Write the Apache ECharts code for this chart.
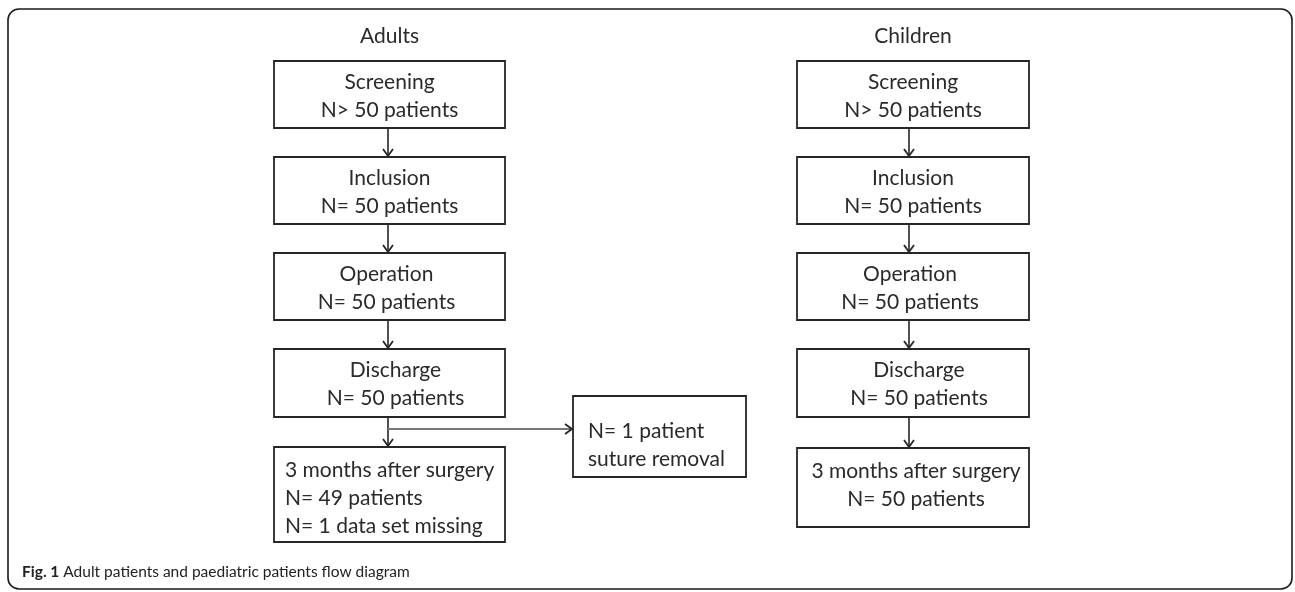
<!DOCTYPE html>
<html>
<head>
<meta charset="utf-8">
<script src="https://cdn.jsdelivr.net/npm/echarts@6/dist/echarts.min.js"></script>
<style>
  html, body { margin: 0; padding: 0; background: #fff; }
  #main { width: 1295px; height: 592px; }
</style>
</head>
<body>
<div id="main"></div>
<script>
// ---- data ----
var groups = ['Adults', 'Children'];
var stages = ['Screening', 'Inclusion', 'Operation', 'Discharge'];
var adultCounts = ['N> 50 patients', 'N= 50 patients', 'N= 50 patients', 'N= 50 patients'];
var childCounts = ['N> 50 patients', 'N= 50 patients', 'N= 50 patients', 'N= 50 patients'];
var adultFollowUp = ['3 months after surgery', 'N= 49 patients', 'N= 1 data set missing'];
var childFollowUp = ['3 months after surgery', 'N= 50 patients'];
var excluded = ['N= 1 patient', 'suture removal'];
var caption = 'Adult patients and paediatric patients flow diagram';

// ---- layout (pixel space of the hidden axes) ----
var cols = [[274, 505], [797, 1029]];          // left / right of each column
var rows = [[61, 128], [157, 224], [253, 320], [349, 417]];
var followRows = [[447, 542], [448, 527]];
var sideBox = [573, 396, 746, 477];
var textShift = [0, 0, -3, 6];               // Discharge text sits a bit right
var FONT = 'Lato, "Open Sans", sans-serif';

// boxes: [x0, y0, x1, y1] + text info kept beside
var boxData = [], boxText = [];
[adultCounts, childCounts].forEach(function (counts, g) {
    stages.forEach(function (s, i) {
        boxData.push([cols[g][0], rows[i][0], cols[g][1], rows[i][1]]);
        boxText.push({ lines: [s, counts[i]], align: 'center', dx: textShift[i], dy: 1.5 });
    });
});
boxData.push([cols[0][0], followRows[0][0], cols[0][1], followRows[0][1]]);
boxText.push({ lines: adultFollowUp, align: 'left', pad: 11, dy: 3.5 });
boxData.push([cols[1][0], followRows[1][0], cols[1][1], followRows[1][1]]);
boxText.push({ lines: childFollowUp, align: 'center', dx: 3, dy: -2 });
boxData.push(sideBox);
boxText.push({ lines: excluded, align: 'left', pad: 15, dy: 9 });

// arrows: [x0, y0, x1, y1]
var arrowX = [388, 909];
var arrowData = [];
arrowX.forEach(function (x, g) {
    for (var i = 0; i < rows.length - 1; i++) {
        arrowData.push([x, rows[i][1], x, rows[i + 1][0]]);
    }
    arrowData.push([x, rows[rows.length - 1][1], x, followRows[g][0]]);
});
arrowData.push([arrowX[0], 429, sideBox[0], 429]);

function renderBox(params, api) {
    var p0 = api.coord([api.value(0), api.value(1)]);
    var p1 = api.coord([api.value(2), api.value(3)]);
    var t = boxText[params.dataIndex];
    var tx = t.align === 'center' ? (p0[0] + p1[0]) / 2 + (t.dx || 0) : p0[0] + t.pad;
    return {
        type: 'group',
        children: [{
            type: 'rect',
            shape: { x: p0[0], y: p0[1], width: p1[0] - p0[0], height: p1[1] - p0[1] },
            style: { fill: '#fff', stroke: '#262626', lineWidth: 1.8 }
        }, {
            type: 'text',
            style: {
                text: t.lines.join('\n'),
                x: tx,
                y: (p0[1] + p1[1]) / 2 + (t.dy || 0),
                align: t.align,
                verticalAlign: 'middle',
                lineHeight: 28,
                fontSize: 21,
                fontFamily: FONT,
                fill: '#2a2a2a'
            }
        }]
    };
}

function renderArrow(params, api) {
    var a = api.coord([api.value(0), api.value(1)]);
    var b = api.coord([api.value(2), api.value(3)]);
    var dx = b[0] - a[0], dy = b[1] - a[1];
    var len = Math.sqrt(dx * dx + dy * dy);
    var ux = dx / len, uy = dy / len;
    var h = 7, w = 5;
    var tip = [b[0] - ux * 1, b[1] - uy * 1];
    var back = [tip[0] - ux * h, tip[1] - uy * h];
    return {
        type: 'group',
        children: [{
            type: 'line',
            shape: { x1: a[0], y1: a[1], x2: tip[0], y2: tip[1] },
            style: { stroke: params.dataIndex === arrowData.length - 1 ? '#777' : '#262626', lineWidth: params.dataIndex === arrowData.length - 1 ? 2.2 : 1.6 }
        }, {
            type: 'polyline',
            shape: { points: [[back[0] - uy * w, back[1] + ux * w], tip, [back[0] + uy * w, back[1] - ux * w]] },
            style: { stroke: '#262626', lineWidth: 1.8, fill: null }
        }]
    };
}

var chart = echarts.init(document.getElementById('main'), null, { renderer: 'canvas' });
var option = {
    animation: false,
    backgroundColor: '#fff',
    grid: { left: 0, right: 0, top: 0, bottom: 0 },
    xAxis: { type: 'value', min: 0, max: 1295, show: false },
    yAxis: { type: 'value', min: 0, max: 592, inverse: true, show: false },
    graphic: [{
        type: 'rect',
        shape: { x: 8, y: 9, width: 1284, height: 580, r: 11 },
        style: { fill: null, stroke: '#1a1a1a', lineWidth: 1.6 },
        z: 0
    }, {
        type: 'text',
        style: {
            text: groups[0], x: (cols[0][0] + cols[0][1]) / 2, y: 36,
            align: 'center', verticalAlign: 'middle',
            fontSize: 21, fontFamily: FONT, fill: '#2a2a2a'
        }
    }, {
        type: 'text',
        style: {
            text: groups[1], x: (cols[1][0] + cols[1][1]) / 2, y: 36,
            align: 'center', verticalAlign: 'middle',
            fontSize: 21, fontFamily: FONT, fill: '#2a2a2a'
        }
    }, {
        type: 'text',
        style: {
            text: '{b|Fig. 1} ' + caption,
            x: 22, y: 572,
            verticalAlign: 'middle',
            fontSize: 15.5, fontFamily: FONT, fill: '#222',
            rich: { b: { fontWeight: 'bold', fontSize: 15.5, fontFamily: FONT, fill: '#222' } }
        }
    }],
    series: [{
        type: 'custom',
        name: 'arrows',
        coordinateSystem: 'cartesian2d',
        renderItem: renderArrow,
        data: arrowData,
        silent: true,
        z: 2
    }, {
        type: 'custom',
        name: 'boxes',
        coordinateSystem: 'cartesian2d',
        renderItem: renderBox,
        data: boxData,
        silent: true,
        z: 3
    }]
};
chart.setOption(option);
</script>
</body>
</html>
